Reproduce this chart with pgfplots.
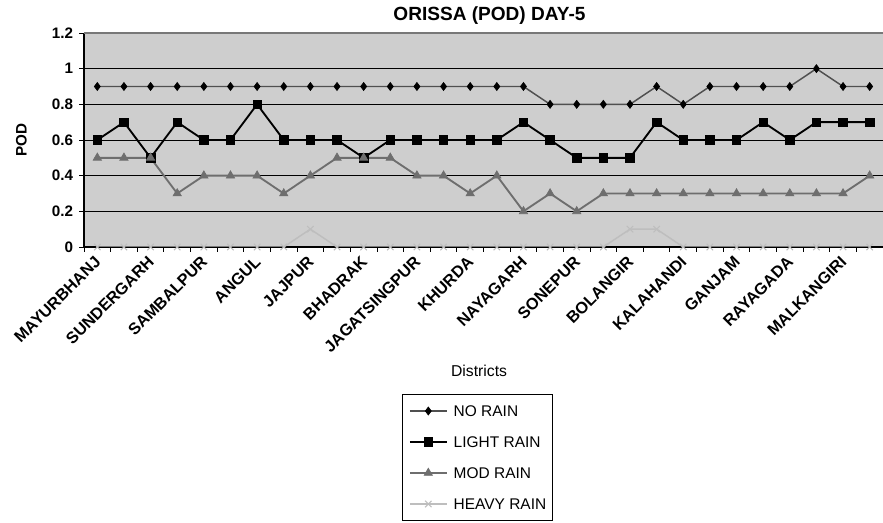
\documentclass[border=0pt]{standalone}
\usepackage{pgfplots}
\pgfplotsset{compat=1.18}
\usepackage{pgfplotstable}
\usepackage{fontspec}
\setmainfont{Liberation Sans}
\definecolor{bgc}{RGB}{206,206,206}
\definecolor{norain}{RGB}{80,80,80}
\definecolor{modrain}{RGB}{110,110,110}
\definecolor{heavyrain}{RGB}{190,190,190}
\definecolor{topline}{RGB}{120,120,120}

\pgfplotstableread{
idx no light mod heavy
0  0.9 0.6 0.5 0
1  0.9 0.7 0.5 0
2  0.9 0.5 0.5 0
3  0.9 0.7 0.3 0
4  0.9 0.6 0.4 0
5  0.9 0.6 0.4 0
6  0.9 0.8 0.4 0
7  0.9 0.6 0.3 0
8  0.9 0.6 0.4 0.1
9  0.9 0.6 0.5 0
10 0.9 0.5 0.5 0
11 0.9 0.6 0.5 0
12 0.9 0.6 0.4 0
13 0.9 0.6 0.4 0
14 0.9 0.6 0.3 0
15 0.9 0.6 0.4 0
16 0.9 0.7 0.2 0
17 0.8 0.6 0.3 0
18 0.8 0.5 0.2 0
19 0.8 0.5 0.3 0
20 0.8 0.5 0.3 0.1
21 0.9 0.7 0.3 0.1
22 0.8 0.6 0.3 0
23 0.9 0.6 0.3 0
24 0.9 0.6 0.3 0
25 0.9 0.7 0.3 0
26 0.9 0.6 0.3 0
27 1.0 0.7 0.3 0
28 0.9 0.7 0.3 0
29 0.9 0.7 0.4 0
}\datatable

\begin{document}
\begin{tikzpicture}
\useasboundingbox (0,0) rectangle (662.25pt,392.25pt);
\begin{axis}[
  at={(63pt,207pt)}, anchor=south west,
  scale only axis, width=599.25pt, height=160.5pt,
  xmin=-0.5, xmax=29.5, ymin=0, ymax=1.2,
  axis background/.style={fill=bgc},
  axis x line*=bottom, axis y line*=left,
  axis line style={black, line width=0.8pt},
  ytick={0,0.2,0.4,0.6,0.8,1,1.2},
  ymajorgrids, grid style={black, line width=0.6pt},
  tick align=outside, major tick length=3.5pt,
  tick style={black, line width=0.7pt},
  /pgf/number format/assume math mode=true,
  yticklabel style={font=\fontsize{11.4}{13}\selectfont\bfseries, anchor=east, inner sep=0pt, xshift=-4.5pt},
  xtick={-0.5,0.5,...,29.5}, xticklabels={,,},
  extra x ticks={0,2,4,6,8,10,12,14,16,18,20,22,24,26,28},
  extra x tick labels={MAYURBHANJ,SUNDERGARH,SAMBALPUR,ANGUL,JAJPUR,BHADRAK,JAGATSINGPUR,KHURDA,NAYAGARH,SONEPUR,BOLANGIR,KALAHANDI,GANJAM,RAYAGADA,MALKANGIRI},
  extra x tick style={major tick length=0pt, grid=none},
  xticklabel style={font=\fontsize{12.2}{14}\selectfont\bfseries, yshift=-9pt, xshift=0.5pt, rotate=45, anchor=east, inner sep=0pt},
  title={ORISSA (POD) DAY-5},
  every axis title/.style={font=\fontsize{14.3}{16}\selectfont\bfseries, at={(axis description cs:0.5075,1)}, anchor=base, yshift=9.2pt},
  ylabel={POD},
  ylabel style={font=\fontsize{11.4}{13}\selectfont\bfseries, at={(axis description cs:-0.0782,0.5)}, anchor=center},
  xlabel={Districts},
  xlabel style={font=\fontsize{11.8}{13}\selectfont, at={(axis description cs:0.4944,-0.6075)}, anchor=base},
  legend style={at={(axis description cs:0.3976,-0.687)}, anchor=north west, draw=black, line width=0.8pt,
    font=\fontsize{11.6}{13}\selectfont, inner xsep=5pt, inner ysep=6.3pt, row sep=11.15pt, column sep=4.5pt,
    nodes={inner xsep=0pt, inner ysep=2pt, text height=8.1pt, text depth=0pt}},
  legend cell align=left,
  legend image code/.code={\draw[mark repeat=2,mark phase=2,#1] plot coordinates {(0pt,0pt) (13.875pt,0pt) (27.75pt,0pt)};},
]
\addplot[color=norain, line width=1.1pt, mark=diamond*, mark size=3pt, mark options={fill=black, draw=black, line width=0.5pt}] table[x=idx, y=no] {\datatable};
\addlegendentry{NO RAIN}
\addplot[color=black, line width=1.4pt, mark=square*, mark size=3.2pt, mark options={fill=black, line width=0.5pt}] table[x=idx, y=light] {\datatable};
\addlegendentry{LIGHT RAIN}
\addplot[color=modrain, line width=1.4pt, mark=triangle*, mark size=3.6pt, mark options={fill=modrain, line width=0.5pt}] table[x=idx, y=mod] {\datatable};
\addlegendentry{MOD RAIN}
\addplot[color=heavyrain, line width=1.1pt, mark=x, mark size=3.4pt, mark options={line width=0.8pt}] table[x=idx, y=heavy] {\datatable};
\addlegendentry{HEAVY RAIN}
\draw[topline, line width=1.5pt] (rel axis cs:0,1) -- (rel axis cs:1,1);
\end{axis}
\end{tikzpicture}
\end{document}
